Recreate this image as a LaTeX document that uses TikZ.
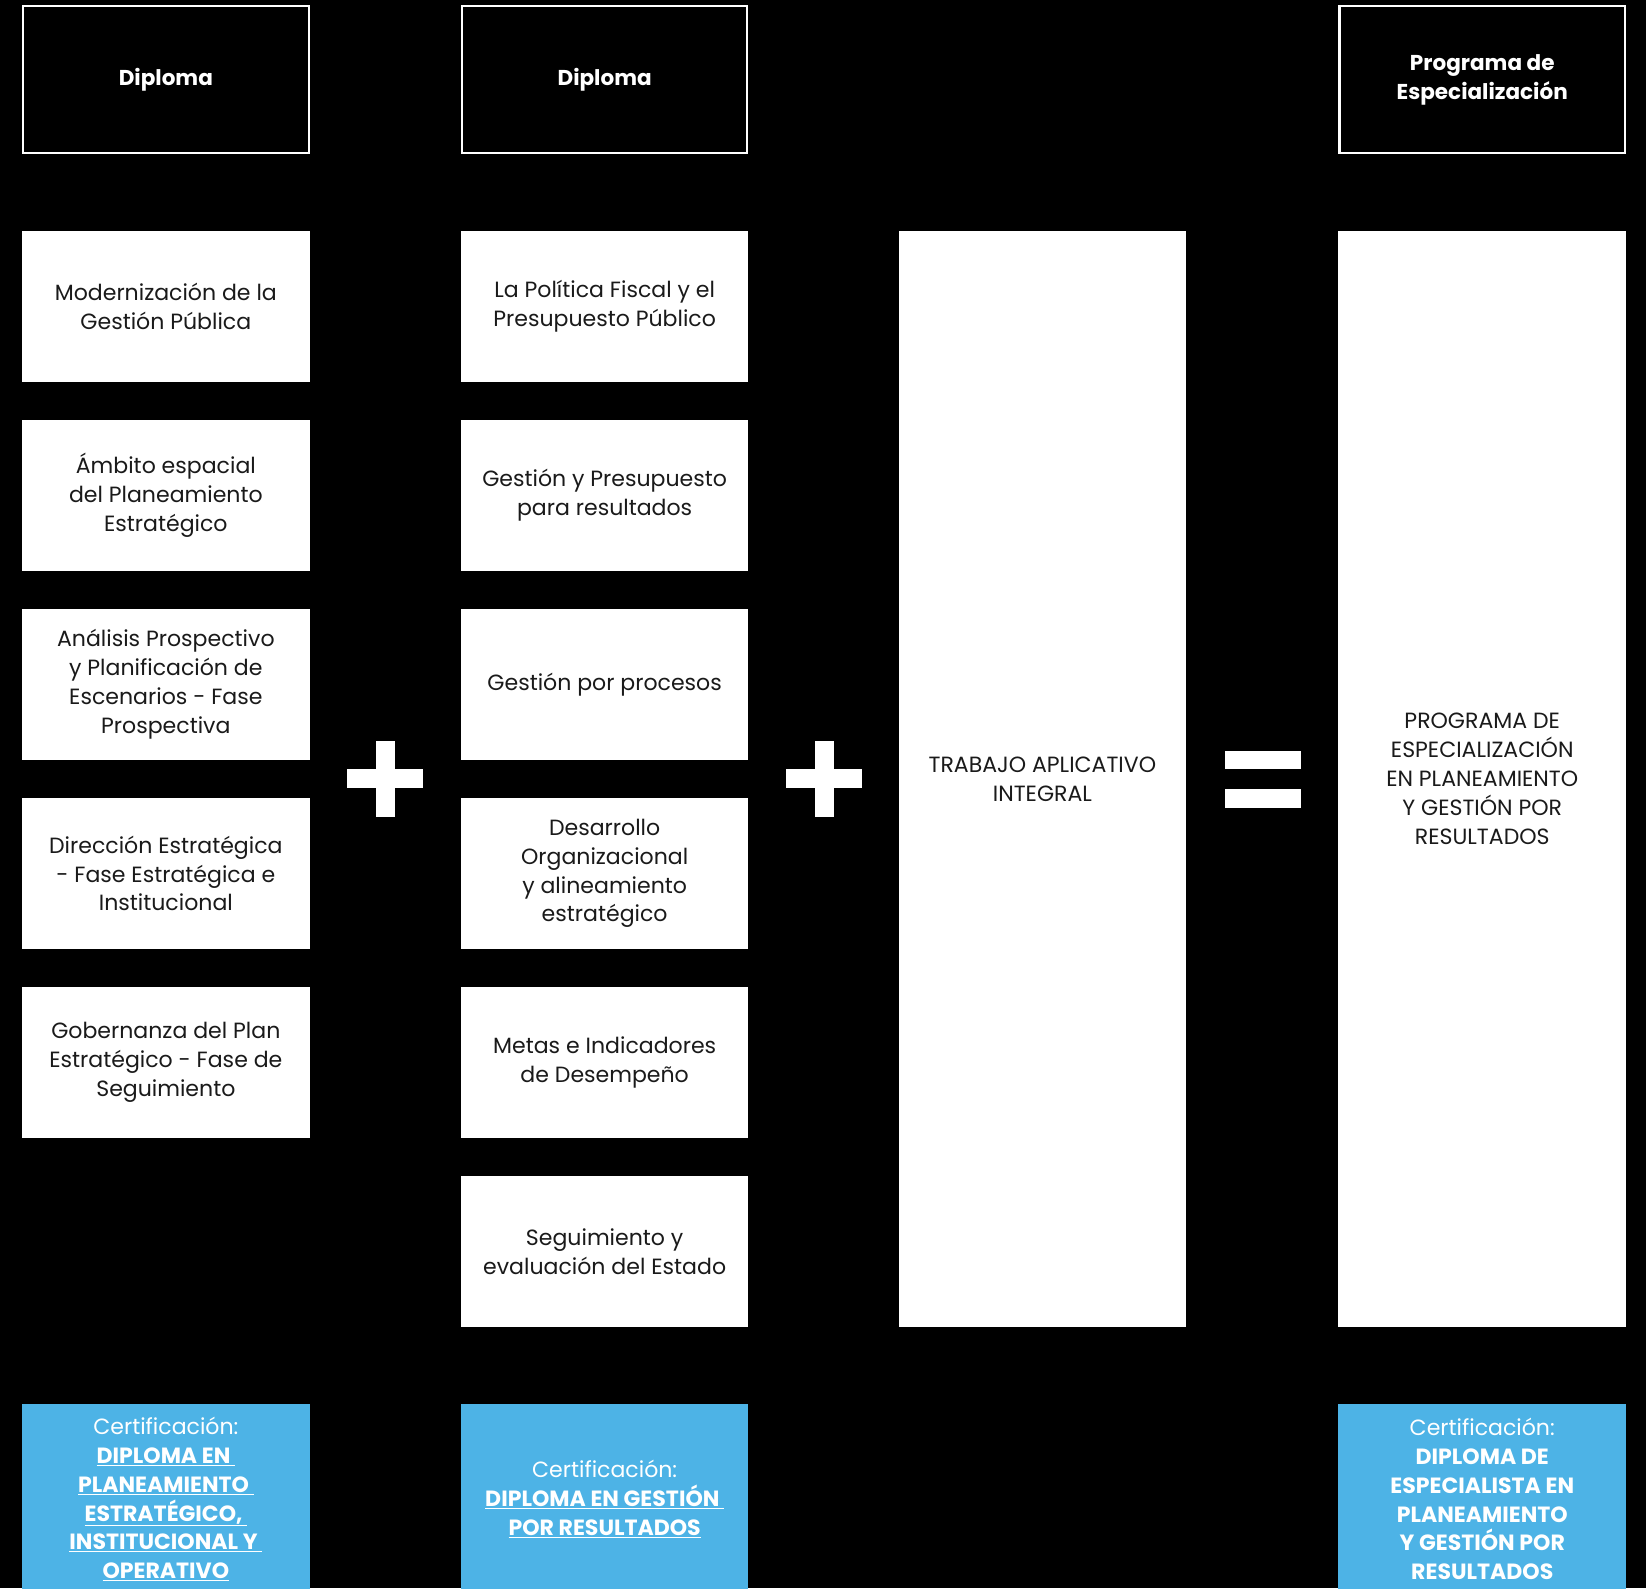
\documentclass[tikz,border=0pt]{standalone}
\usepackage{fontspec}
\setmainfont{Poppins}
\definecolor{certblue}{HTML}{4DB3E6}
\definecolor{inkgray}{HTML}{1A1A1A}
\newcommand{\certul}[1]{\underline{#1}}
\begin{document}
\begin{tikzpicture}[x=1pt,y=-1pt,
  head/.style={draw=white,line width=2pt,fill=black,text=white,align=center,
    minimum width=272pt,minimum height=140pt,inner sep=0pt,
    font=\fontsize{20.5}{27.5}\selectfont\bfseries},
  course/.style={fill=white,text=inkgray,align=center,
    minimum width=274pt,minimum height=144pt,inner sep=0pt,
    font=\fontsize{21}{27.5}\selectfont},
  tall/.style={course,minimum height=1044pt},
  cert/.style={fill=certblue,text=white,align=center,
    minimum width=274pt,minimum height=182pt,inner sep=0pt,
    font=\fontsize{21}{27.5}\selectfont}]

  % background
  \fill[black] (0,0) rectangle (1568,1513);
  \useasboundingbox (0,0) rectangle (1568,1513);

  % headers
  \node[head] (hdA) at (158,76) {Diploma};
  \node[head] (hdB) at (576,76) {Diploma};
  \node[head] (hdD) at (1412,76) {Programa de\\Especialización};

  % first diploma
  \node[course] (modern) at (158,292) {Modernización de la\\Gestión Pública};
  \node[course] (ambito) at (158,472) {Ámbito espacial\\del Planeamiento\\Estratégico};
  \node[course] (analisis) at (158,652) {Análisis Prospectivo\\y Planificación de\\Escenarios - Fase\\Prospectiva};
  \node[course] (direccion) at (158,832) {Dirección Estratégica\\- Fase Estratégica e\\Institucional};
  \node[course] (gobernanza) at (158,1012) {Gobernanza del Plan\\Estratégico - Fase de\\Seguimiento};

  % second diploma
  \node[course] (politica) at (576,292) {La Política Fiscal y el\\Presupuesto Público};
  \node[course] (gestres) at (576,472) {Gestión y Presupuesto\\para resultados};
  \node[course] (procesos) at (576,652) {Gestión por procesos};
  \node[course] (desarrollo) at (576,832) {Desarrollo\\Organizacional\\y alineamiento\\estratégico};
  \node[course] (metas) at (576,1012) {Metas e Indicadores\\de Desempeño};
  \node[course] (seguim) at (576,1192) {Seguimiento y\\evaluación del Estado};

  % final work and result
  \node[tall] (trabajo) at (993,742) {TRABAJO APLICATIVO\\INTEGRAL};
  \node[tall] (programa) at (1412,742) {PROGRAMA DE\\ESPECIALIZACIÓN\\EN PLANEAMIENTO\\Y GESTIÓN POR\\RESULTADOS};

  % plus and equals
  \foreach \cx in {367,785}{
    \fill[white] (\cx-36,733) rectangle (\cx+36,751);
    \fill[white] (\cx-9,706) rectangle (\cx+9,778);
  }
  \fill[white] (1167,715) rectangle (1239,733);
  \fill[white] (1167,752) rectangle (1239,770);

  % certifications
  \node[cert] (certA) at (158,1428) {Certificación:\\\bfseries\certul{DIPLOMA EN }\\\bfseries\certul{PLANEAMIENTO }\\\bfseries\certul{ESTRATÉGICO, }\\\bfseries\certul{INSTITUCIONAL Y }\\\bfseries\certul{OPERATIVO}};
  \node[cert] (certB) at (576,1428) {Certificación:\\\bfseries\certul{DIPLOMA EN GESTIÓN }\\\bfseries\certul{POR RESULTADOS}};
  \node[cert] (certD) at (1412,1428) {Certificación:\\\bfseries DIPLOMA DE\\\bfseries ESPECIALISTA EN\\\bfseries PLANEAMIENTO\\\bfseries Y GESTIÓN POR\\\bfseries RESULTADOS};
\end{tikzpicture}
\end{document}
